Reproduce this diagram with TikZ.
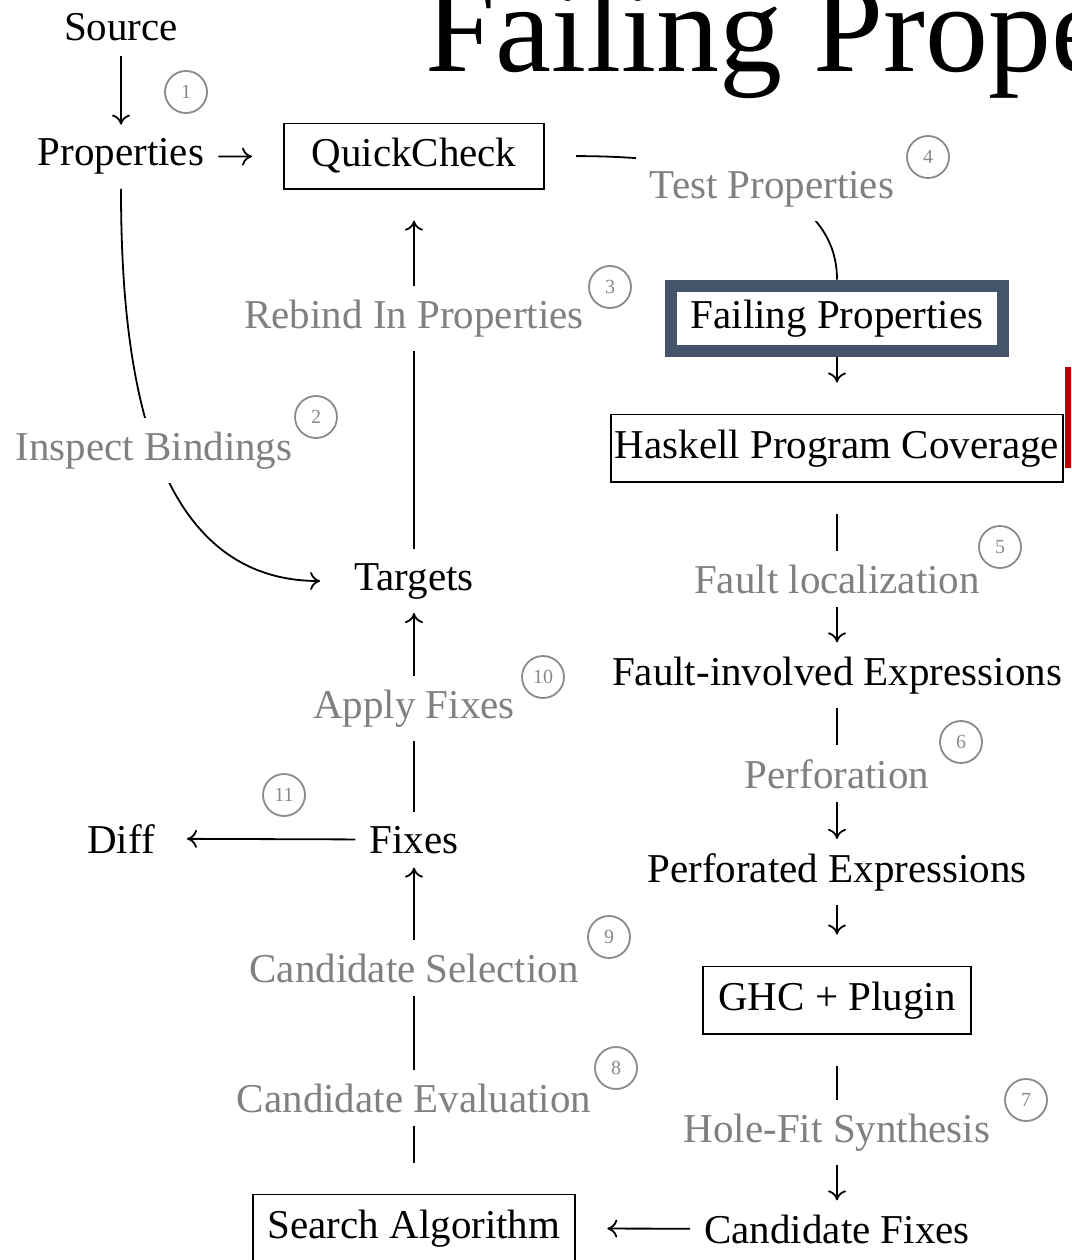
\documentclass[tikz,border=0pt]{standalone}
\usepackage{fontspec}
\setmainfont{Liberation Serif}
\usepackage{xcolor}
\usetikzlibrary{arrows.meta}
\definecolor{slate-border}{HTML}{44546A}
\definecolor{label-gray}{HTML}{808080}
\definecolor{num-gray}{HTML}{8A8A8A}
\definecolor{accent-red}{HTML}{C00000}
\pgfdeclarelayer{background}
\pgfsetlayers{background,main}

\begin{document}
\begin{tikzpicture}[x=1pt, y=-1pt,
      every node/.style={font=\fontsize{41}{48}\selectfont, inner sep=14pt},
      txt/.style={anchor=base, text=black},
      box/.style={anchor=base, draw, line width=1.8pt, inner xsep=15pt,
                  inner ysep=15pt, minimum width=260pt, outer sep=32pt},
      lbl/.style={anchor=base, text=label-gray, fill=white},
      num/.style={circle, draw=num-gray, line width=1.8pt, minimum size=42pt,
                  inner sep=0pt, text=num-gray, font=\fontsize{20}{22}\selectfont},
      flow/.style={line width=1.8pt, -{Computer Modern Rightarrow[length=10pt, width=18pt]}},
      link/.style={line width=1.8pt}]
    \useasboundingbox (0,0) rectangle (1071,1260);
    \clip (0,0) rectangle (1071,1260);

    % slide title and side mark
    \node[anchor=base west, inner sep=0pt, font=\fontsize{126}{138}\selectfont]
          (title) at (425,72) {Failing Properties};
    \fill[accent-red] (1065,367) rectangle (1071,468);

    % left part
    \node[txt] (src) at (121,41) {Source};
    \node[txt] (props) at (121,166) {Properties};
    \node[box] (qc) at (414,167) {QuickCheck};
    \node[txt] (targets) at (414,590) {Targets};
    \node[txt] (fixes) at (414,853) {Fixes};
    \node[txt] (diff) at (121,853) {Diff};
    \node[box] (search) at (414,1238) {Search Algorithm};

    % right part
    \node[anchor=base, draw=slate-border, line width=12pt, inner xsep=20pt,
          inner ysep=14pt] (failp) at (837,328) {Failing Properties};
    \node[box, inner xsep=4pt] (hpc) at (837,458) {Haskell Program Coverage};
    \node[txt] (fie) at (837,685) {Fault-involved Expressions};
    \node[txt] (perf) at (837,882) {Perforated Expressions};
    \node[box] (ghc) at (837,1010) {GHC + Plugin};
    \node[txt] (cfix) at (837,1243) {Candidate Fixes};

    % step labels
    \node[lbl] (tprops) at (772,198) {Test Properties};
    \node[lbl] (rebind) at (414,328) {Rebind In Properties};
    \node[lbl] (inspect) at (154,460) {Inspect Bindings};
    \node[lbl] (floc) at (837,593) {Fault localization};
    \node[lbl] (perfo) at (837,788) {Perforation};
    \node[lbl] (hfit) at (837,1142) {Hole-Fit Synthesis};
    \node[lbl] (apply) at (414,718) {Apply Fixes};
    \node[lbl] (csel) at (414,982) {Candidate Selection};
    \node[lbl] (ceval) at (414,1112) {Candidate Evaluation};

    % step numbers
    \node[num] (n1) at (186,92) {1};
    \node[num] (n2) at (316,417) {2};
    \node[num] (n3) at (610,287) {3};
    \node[num] (n4) at (928,157) {4};
    \node[num] (n5) at (1000,547) {5};
    \node[num] (n6) at (961,742) {6};
    \node[num] (n7) at (1026,1100) {7};
    \node[num] (n8) at (616,1068) {8};
    \node[num] (n9) at (609,937) {9};
    \node[num] (n10) at (543,677) {10};
    \node[num] (n11) at (284,795) {11};

    \begin{pgfonlayer}{background}
      \draw[flow] (src) -- (props);
      \draw[flow] (props) -- (qc);
      \draw[link] (qc.east) .. controls +(172,0) and +(0,-79) .. (failp.north);
      \draw[flow] (failp) -- (hpc);
      \draw[flow] (hpc) -- (fie);
      \draw[flow] (fie) -- (perf);
      \draw[flow] (perf) -- (ghc);
      \draw[flow] (ghc) -- (cfix);
      \draw[flow] (cfix) -- (search);
      \draw[flow] (search) -- (fixes);
      \draw[flow, shorten >=18pt] (fixes) -- (diff);
      \draw[flow] (fixes) -- (targets);
      \draw[flow] (targets) -- (qc);
      \draw[flow, shorten >=20pt] (props.south) .. controls +(0,167) and +(-196,0) .. (targets.west);
    \end{pgfonlayer}
  \end{tikzpicture}
\end{document}
